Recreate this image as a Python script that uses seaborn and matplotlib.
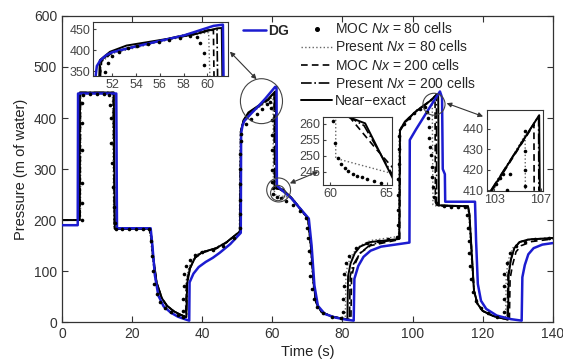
import numpy as np
import matplotlib
matplotlib.use("Agg")
import matplotlib.pyplot as plt
import seaborn as sns
from matplotlib.lines import Line2D
from matplotlib.patches import Ellipse

# ---- main curves (time s, pressure m) ----
near_t = [0, 5.0, 5.1, 14.8, 15.1, 25.0, 25.5, 26.0, 27.0, 28.5, 30, 32, 34, 35.5, 35.7, 36.5, 38, 40, 42, 44, 47,
          50.8, 51.1, 51.8, 53.2, 56.0, 58.8, 60.8, 61.0, 61.2, 63.1, 65.4, 70.2, 71.0, 71.8, 72.5, 74, 77, 80,
          81.4, 81.6, 82.3, 83.5, 85, 88, 96.2, 96.4, 97.8, 101.1, 104.9, 107.1, 107.3, 107.5, 115.8, 116.2, 117,
          117.5, 118.5, 120, 123, 126, 127.2, 127.4, 128, 129, 130.5, 133, 140]
near_p = [200, 200, 450, 450, 183, 183, 168, 130, 78, 47, 32, 21, 14, 10, 75, 105, 127, 137, 141, 145, 157,
          178, 376, 396, 411, 424, 437, 452, 452, 262, 260, 243, 203, 150, 75, 38, 20, 11, 7,
          6, 90, 115, 135, 148, 157, 163, 376, 393, 414, 433, 447, 447, 229, 227, 212, 120,
          62, 36, 22, 12, 7, 5, 92, 122, 145, 157, 162, 165]

dg_t = [0, 4.5, 4.6, 15.5, 15.7, 25.3, 25.8, 26.5, 27.5, 29, 31, 33, 35, 36.3, 36.4, 37.5, 39, 41, 43, 45, 48,
        51.0, 51.1, 51.5, 52, 54, 56, 58, 60.8, 61.2, 61.3, 62.5, 65.4, 70.4, 71.2, 72, 73, 75, 78, 81,
        83.2, 83.4, 84.5, 86, 88, 91, 99.1, 99.2, 101, 103, 105, 107.8, 108.4, 108.6, 109.2, 109.3, 117.8,
        118.1, 118.6, 119.5, 121, 124, 128, 131.1, 131.3, 132, 133, 134.5, 137, 140]
dg_p = [190, 190, 448, 448, 184, 184, 150, 92, 52, 31, 19, 11, 6, 3, 78, 95, 108, 118, 126, 136, 153,
        175, 370, 385, 394, 409, 423, 438, 461, 461, 268, 260, 243, 203, 150, 72, 32, 16, 9, 5,
        3, 85, 110, 128, 140, 148, 156, 357, 378, 400, 422, 452, 440, 300, 290, 236, 236,
        160, 75, 42, 26, 13, 6, 3, 88, 112, 133, 145, 152, 155]

p80_t = [0, 5.3, 5.4, 14.4, 14.8, 24.8, 25.3, 25.8, 26.8, 28.5, 30, 32, 34.5, 35.2, 35.4, 36.2, 38, 40, 43, 47,
         50.6, 50.8, 51.6, 53, 56, 58.5, 60.0, 60.2, 60.3, 61.0, 65.5, 70.0, 70.8, 71.6, 72.5, 74, 77,
         80.8, 81.0, 81.6, 83, 85, 88, 96.0, 96.2, 98, 101, 104, 105.6, 105.8, 106.2, 115.6, 116.0, 116.8,
         117.5, 118.5, 120, 123, 126.5, 126.7, 127.3, 128.5, 130.5, 134, 140]
p80_p = [200, 200, 448, 448, 183, 183, 165, 125, 75, 45, 31, 21, 13, 10, 80, 108, 130, 139, 143, 157,
         178, 372, 392, 405, 420, 432, 440, 440, 262, 249, 244, 202, 150, 75, 38, 20, 11,
         6, 95, 115, 135, 150, 160, 168, 378, 392, 412, 428, 437, 230, 228, 227, 212, 120,
         62, 36, 22, 12, 6, 92, 122, 145, 157, 162, 165]

m200_t = [0, 5.2, 5.3, 14.6, 15.0, 24.9, 25.4, 26.0, 27.0, 28.5, 30, 32, 34, 35.3, 35.5, 36.3, 38, 40, 42, 44, 47,
          50.7, 51.0, 51.8, 53.2, 56, 58.8, 60.5, 60.6, 61.9, 64.1, 66, 70.2, 71.0, 71.8, 72.5, 74, 77, 80,
          82.4, 82.6, 83.3, 85, 88, 96.3, 96.5, 98, 101, 104.9, 106.4, 106.5, 107.0, 115.8, 116.2, 117,
          117.5, 118.5, 120, 123, 127.6, 127.8, 128.5, 129.5, 131, 134, 140]
m200_p = [200, 200, 449, 449, 183, 183, 168, 128, 76, 46, 31, 21, 14, 10, 75, 104, 126, 136, 140, 144, 156,
          178, 374, 394, 409, 422, 435, 447, 262, 261, 252, 240, 203, 150, 75, 38, 20, 11, 7,
          5, 88, 110, 135, 150, 162, 376, 392, 413, 432, 442, 235, 229, 227, 212, 120,
          62, 36, 22, 12, 5, 85, 112, 138, 150, 158, 163]

p200_t = [0, 5.1, 5.2, 14.7, 15.0, 25.0, 25.5, 26.0, 27.0, 28.5, 30, 32, 34, 35.5, 35.7, 36.5, 38, 40, 42, 44, 47,
          50.8, 51.05, 51.8, 53.2, 56, 58.8, 60.6, 60.7, 61.5, 63.0, 65.5, 70.2, 71.0, 71.8, 72.5, 74, 77, 80,
          82.0, 82.2, 83, 85, 88, 96.2, 96.4, 98, 101, 104.9, 106.8, 106.85, 107.4, 115.8, 116.2, 117,
          117.5, 118.5, 120, 123, 127.0, 127.2, 128, 129, 130.5, 133, 140]
p200_p = [200, 200, 450, 450, 183, 183, 168, 130, 78, 47, 32, 21, 14, 10, 75, 105, 127, 137, 141, 145, 157,
          178, 375, 395, 410, 423, 436, 450, 262, 262, 259, 244, 203, 150, 75, 38, 20, 11, 7,
          5, 90, 112, 135, 152, 164, 377, 392, 414, 433, 446, 230, 228, 227, 212, 120,
          62, 36, 22, 12, 5, 92, 122, 145, 157, 162, 165]

m80_t = [5.7, 5.7, 5.7, 5.7, 5.7, 5.8, 6, 8, 10, 12, 13.5,
         13.8, 13.9, 14.1, 14.3, 14.5, 14.8, 15.0, 15.3, 17, 19, 21, 23, 24.7,
         25.3, 25.6, 25.9, 26.3, 27, 28, 29.5, 31, 33, 34.4,
         34.6, 34.6, 34.7, 34.8, 35.5, 36.5, 38, 40, 43, 46, 49,
         50.7, 50.7, 50.8, 50.8, 50.9, 50.9, 51.0, 51.2,
         52.5, 54, 55.5, 57, 58.5, 59.3,
         59.7, 59.8, 59.8, 59.9, 59.9, 60.0, 60.1, 60.3,
         61.2, 62.5, 64, 66, 68, 69.6,
         70.0, 70.2, 70.4, 70.6, 70.8, 71.2, 71.8, 72.8, 74.5, 77, 79.5,
         80.2, 80.2, 80.3, 80.5, 81, 82, 84, 87, 90, 93, 95.5,
         95.8, 95.8, 95.9, 95.9, 96.0, 96.0, 96.2,
         97.5, 99, 100.5, 102, 103.5,
         104.2, 104.4, 104.6, 104.8, 105, 105.2, 105.4, 105.6, 105.8, 106.2, 107, 109, 111, 113, 115,
         115.6, 115.8, 116, 116.2, 116.4, 116.7, 117.2, 118, 119.5, 121.5, 124,
         126.0, 126.0, 126.1, 126.2, 126.8, 127.8, 129.5, 132, 135, 139]
m80_p = [200, 233, 272, 337, 390, 430, 445, 447, 447, 447, 445,
         425, 400, 351, 312, 265, 225, 195, 182, 182, 182, 182, 182, 182,
         160, 130, 100, 75, 55, 40, 28, 20, 14, 10,
         22, 45, 70, 95, 110, 122, 132, 138, 142, 150, 165,
         185, 212, 240, 270, 300, 330, 355, 368,
         388, 398, 408, 418, 428, 432,
         420, 396, 367, 337, 298, 275, 262, 252,
         246, 243, 238, 230, 218, 205,
         185, 165, 140, 115, 90, 65, 45, 30, 18, 11, 8,
         20, 45, 70, 95, 115, 130, 145, 155, 160, 163, 167,
         190, 220, 250, 280, 310, 340, 365,
         388, 400, 410, 418, 422,
         412, 400, 382, 361, 343, 327, 304, 284, 265, 245, 233, 228, 226, 226, 226,
         210, 185, 160, 135, 110, 85, 60, 42, 28, 18, 10,
         20, 45, 70, 95, 115, 135, 150, 158, 162, 164]

# ---- inset 1 (t 50-62) ----
i1_near_t = [50.9, 50.95, 51.8, 53.2, 56.0, 58.8, 60.8, 61.2, 61.25]
i1_near_p = [338, 376, 396, 411, 424, 437, 452, 453, 338]
i1_dg_t = [50.6, 50.7, 51.0, 51.5, 52.0, 54.0, 56.0, 58.0, 60.5, 61.3, 61.35]
i1_dg_p = [338, 362, 376, 388, 395, 409, 422, 435, 458, 461, 338]
i1_p80_t = [51.0, 51.1, 52, 54, 56, 58, 59.5, 60.1, 60.2]
i1_p80_p = [338, 372, 392, 406, 420, 432, 440, 442, 338]
i1_m200_t = [51.0, 51.1, 52, 54, 56, 58, 60, 60.5, 60.55]
i1_m200_p = [338, 374, 394, 409, 422, 434, 446, 448, 338]
i1_p200_t = [50.95, 51.0, 52, 54, 56, 58, 60, 60.8, 60.85]
i1_p200_p = [338, 375, 395, 410, 423, 436, 448, 450, 338]
i1_m80_t = [51.35, 51.6, 52.0, 52.6, 53.3, 54.1, 55.0, 55.9, 56.8, 57.7, 58.5, 59.1, 59.4, 59.7, 59.7]
i1_m80_p = [348, 368, 386, 396, 404, 410, 415, 420, 425, 429, 433, 432, 416, 392, 364]

# ---- inset 2 (t 59-66) ----
i2_near_t = [61.4, 63.1, 65.6]
i2_near_p = [262.5, 260.2, 242.5]
i2_m200_t = [61.7, 61.9, 64.1, 65.6]
i2_m200_p = [262.5, 261.4, 252, 246]
i2_p200_t = [61.5, 63.0, 65.6]
i2_p200_p = [262.5, 259.5, 243.5]
i2_p80_t = [60.5, 60.5, 61.0, 65.6]
i2_p80_p = [262.5, 249, 248.7, 244.3]
i2_m80_t = [60.3, 60.4, 60.7, 61.0, 61.3, 61.6, 62.0, 62.4, 62.8, 63.3, 63.9, 64.5]
i2_m80_p = [260.8, 254, 249.3, 247.4, 246.0, 245.2, 244.3, 243.7, 243.2, 242.6, 242.0, 241.4]

# ---- inset 3 (t 102-107) ----
i3_near_t = [102.75, 106.85, 106.9]
i3_near_p = [409.7, 446.5, 409.7]
i3_p200_t = [102.7, 106.8, 106.82]
i3_p200_p = [409.7, 446, 409.7]
i3_m200_t = [102.8, 106.4, 106.42]
i3_m200_p = [409.7, 442, 409.7]
i3_p80_t = [102.9, 105.65, 105.67]
i3_p80_p = [409.7, 437, 409.7]
i3_m80_t = [103.2, 103.5, 103.8, 104.1, 104.4, 105.6, 105.6, 105.6, 105.6]
i3_m80_p = [413, 416, 418, 410, 418, 439, 429, 420, 412]

blue = "#1c1cd0"

sns.set_style("ticks")
plt.rcParams["font.family"] = ["Liberation Sans", "DejaVu Sans"]
plt.rcParams["mathtext.fontset"] = "custom"
plt.rcParams["mathtext.it"] = "Liberation Sans:italic"
plt.rcParams["mathtext.rm"] = "Liberation Sans"


def draw_set(ax, sets, ms=2.6):
    near, dg, p80, m200, p200, m80 = sets
    if p80 is not None:
        sns.lineplot(x=p80[0], y=p80[1], sort=False, estimator=None, color="#666666", lw=1.0, ls=":", ax=ax)
    if m200 is not None:
        sns.lineplot(x=m200[0], y=m200[1], sort=False, estimator=None, color="k", lw=1.2, ls=(0, (4, 2.5)), ax=ax)
    if p200 is not None:
        sns.lineplot(x=p200[0], y=p200[1], sort=False, estimator=None, color="k", lw=1.2, ls="-.", ax=ax)
    if near is not None:
        sns.lineplot(x=near[0], y=near[1], sort=False, estimator=None, color="k", lw=1.4, ax=ax)
    if m80 is not None:
        sns.scatterplot(x=m80[0], y=m80[1], color="k", s=ms ** 2, linewidth=0, ax=ax, zorder=4)
    if dg is not None:
        sns.lineplot(x=dg[0], y=dg[1], sort=False, estimator=None, color=blue, lw=1.8, ax=ax, zorder=3)


fig = plt.figure(figsize=(5.63, 3.62), dpi=100)
ax = fig.add_axes([0.110, 0.110, 0.872, 0.846])

draw_set(ax, [(near_t, near_p), (dg_t, dg_p), (p80_t, p80_p), (m200_t, m200_p), (p200_t, p200_p), (m80_t, m80_p)])

ax.set_xlim(0, 140)
ax.set_ylim(0, 600)
ax.set_xticks(range(0, 141, 20))
ax.set_yticks(range(0, 601, 100))
ax.tick_params(direction="in", top=True, right=True, labelsize=10, colors="#333333", length=4)
for s in ax.spines.values():
    s.set_color("#333333")
    s.set_linewidth(0.9)
ax.set_xlabel("Time (s)", fontsize=10.5, color="#222222", labelpad=3)
ax.set_ylabel("Pressure (m of water)", fontsize=10.5, color="#222222", labelpad=4)

# circles and arrows
for (cx, cy, w, h) in [(56.9, 433, 12.0, 88), (61.8, 259, 6.8, 47), (61.6, 253, 4.2, 30), (106.1, 427, 6.3, 43)]:
    ax.add_patch(Ellipse((cx, cy), w, h, fill=False, ec="#444444", lw=0.8, zorder=5))
arr = dict(arrowstyle="<|-|>", color="#333333", lw=0.8, mutation_scale=7, shrinkA=0, shrinkB=0)
ax.annotate("", xy=(47.9, 530), xytext=(55.5, 476), arrowprops=arr)
ax.annotate("", xy=(65.0, 272), xytext=(73.1, 295), arrowprops=arr)
ax.annotate("", xy=(109.7, 429), xytext=(120.1, 403), arrowprops=arr)

# legends
h_dg = [Line2D([], [], color=blue, lw=1.8)]
leg1 = ax.legend(h_dg, ["DG"], loc="upper left", bbox_to_anchor=(0.420, 0.952), bbox_transform=fig.transFigure,
                 frameon=False, handlelength=1.6, handletextpad=0.2, borderpad=0,
                 prop={"weight": "bold", "size": 10})
ax.add_artist(leg1)
hs = [Line2D([], [], color="k", ls="none", marker="o", ms=2.6),
      Line2D([], [], color="#666666", ls=":", lw=1.0),
      Line2D([], [], color="k", ls=(0, (4, 2.5)), lw=1.2),
      Line2D([], [], color="k", ls="-.", lw=1.2),
      Line2D([], [], color="k", lw=1.4)]
labels = ["MOC $\\mathit{Nx}$ = 80 cells", "Present $\\mathit{Nx}$ = 80 cells", "MOC $\\mathit{Nx}$ = 200 cells",
          "Present $\\mathit{Nx}$ = 200 cells", "Near\u2212exact"]
ax.legend(hs, labels, loc="upper left", bbox_to_anchor=(0.523, 0.960), bbox_transform=fig.transFigure,
          frameon=False, fontsize=10, handlelength=2.2, handletextpad=0.2, borderpad=0, labelspacing=0.22)


def style_inset(a, xl, yl, xt, yt):
    a.set_xlim(*xl)
    a.set_ylim(*yl)
    a.set_xticks(xt)
    a.set_yticks(yt)
    a.tick_params(direction="in", labelsize=9, colors="#444444", length=2.5, pad=2)
    a.set_xlabel("")
    a.set_ylabel("")
    for s in a.spines.values():
        s.set_color("#333333")
        s.set_linewidth(0.8)


ax1 = fig.add_axes([0.1657, 0.790, 0.2387, 0.150])
draw_set(ax1, [(i1_near_t, i1_near_p), (i1_dg_t, i1_dg_p), (i1_p80_t, i1_p80_p), (i1_m200_t, i1_m200_p),
               (i1_p200_t, i1_p200_p), (i1_m80_t, i1_m80_p)])
style_inset(ax1, (50.4, 61.7), (338, 468), [52, 54, 56, 58, 60], [350, 400, 450])

ax2 = fig.add_axes([0.5742, 0.489, 0.1226, 0.187])
draw_set(ax2, [(i2_near_t, i2_near_p), None, (i2_p80_t, i2_p80_p), (i2_m200_t, i2_m200_p),
               (i2_p200_t, i2_p200_p), (i2_m80_t, i2_m80_p)])
style_inset(ax2, (59.4, 65.5), (240.8, 262.1), [60, 65], [245, 250, 255, 260])

ax3 = fig.add_axes([0.8645, 0.473, 0.1005, 0.223])
draw_set(ax3, [(i3_near_t, i3_near_p), None, (i3_p80_t, i3_p80_p), (i3_m200_t, i3_m200_p),
               (i3_p200_t, i3_p200_p), (i3_m80_t, i3_m80_p)])
style_inset(ax3, (102.37, 107.2), (409.7, 449), [103, 107], [410, 420, 430, 440])

fig.savefig("out.png", dpi=100)
